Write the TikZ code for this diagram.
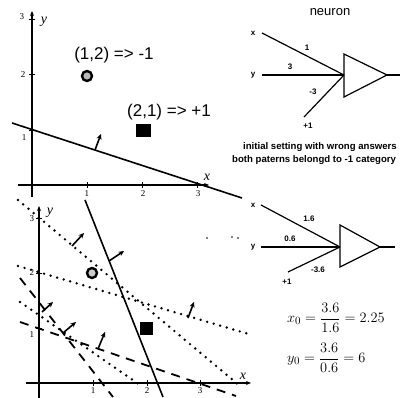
\documentclass[tikz,border=0pt]{standalone}
\usepackage{fontspec}
\setmainfont{Liberation Serif}
\newfontfamily\arial{Liberation Sans}
\usetikzlibrary{arrows.meta}
\begin{document}
\begin{tikzpicture}[x=1pt,y=-1pt,
  axis/.style={line width=1.1pt,-{Stealth[length=5pt,width=4pt]}},
  tick/.style={line width=0.9pt},
  plotline/.style={line width=1.6pt},
  dotline/.style={line width=2.7pt,line cap=round,dash pattern=on 0pt off 6.8pt},
  dashline/.style={line width=1.8pt,dash pattern=on 9pt off 7pt},
  normalarrow/.style={line width=1.6pt,-{Stealth[length=5.5pt,width=5pt]}},
  ticklab/.style={inner sep=0pt,font=\fontsize{9}{9}\selectfont},
  axlab/.style={inner sep=0pt,font=\fontsize{14}{14}\selectfont\itshape},
  bigtxt/.style={inner sep=0pt,font=\arial\fontsize{17}{17}\selectfont},
  wlab/.style={inner sep=0pt,font=\arial\bfseries\fontsize{8}{8}\selectfont},
  note/.style={inner sep=0pt,font=\arial\bfseries\fontsize{9.6}{10}\selectfont},
  wire/.style={line width=1.2pt},
  neuronshape/.style={line width=1.2pt},
  circmark/.style={circle,draw=black,line width=2.4pt,fill=gray!55,minimum size=10pt,inner sep=0pt},
  sqmark/.style={fill=black,inner sep=0pt},
  eq/.style={inner sep=0pt,font=\fontsize{15}{15}\selectfont},
]
\useasboundingbox (0,0) rectangle (400,398);

% ================= TOP PLOT =================
\coordinate (ty0) at (32,197);
\coordinate (ty1) at (32,11);
\coordinate (tx0) at (18,185);
\coordinate (tx1) at (209,185);
\draw[axis] (ty0) -- (ty1);
\draw[axis] (tx0) -- (tx1);
\foreach \yy in {130,74,19} \draw[tick] (29,\yy) -- (35,\yy);
\foreach \xx in {87,142,197} \draw[tick] (\xx,182) -- (\xx,188);
\node[ticklab] (tl3) at (22,17) {3};
\node[ticklab] (tl2) at (23,75) {2};
\node[ticklab] (tl1) at (24,138) {1};
\node[ticklab] (txl1) at (87,194) {1};
\node[ticklab] (txl2) at (143,194) {2};
\node[ticklab] (txl3) at (198,194) {3};
\node[axlab] (tylab) at (44,22) {y};
\node[axlab] (txlab) at (207,177) {x};

\coordinate (tl-a) at (12,123);
\coordinate (tl-b) at (242,198);
\draw[plotline] (tl-a) -- (tl-b);
\coordinate (tn-a) at (95,150);
\coordinate (tn-b) at (101,134);
\draw[normalarrow] (tn-a) -- (tn-b);

\node[circmark] (tp12) at (87,76) {};
\node[sqmark,minimum width=15pt,minimum height=13pt] (tp21) at (143.5,130.5) {};
\node[bigtxt] (lab12) at (114,55) {(1,2) => -1};
\node[bigtxt] (lab21) at (169,112) {(2,1) => +1};

% ================= TOP NEURON =================
\node[inner sep=0pt,font=\arial\fontsize{13}{13}\selectfont] (ntitle) at (330,12) {neuron};
\node[wlab] (nx) at (253,33) {x};
\node[wlab] (ny) at (253,75) {y};
\node[wlab] (nb) at (308,126) {+1};
\coordinate (nxs) at (262,33);
\coordinate (nys) at (262,75);
\coordinate (nbs) at (304,117);
\coordinate (nin) at (344,75);
\coordinate (ntt) at (344,54);
\coordinate (ntb) at (344,97);
\coordinate (nap) at (387,75);
\coordinate (nout) at (400,75);
\draw[wire] (nxs) -- (nin);
\draw[wire] (nys) -- (nin);
\draw[wire] (nbs) -- (nin);
\draw[neuronshape] (ntt) -- (nap) -- (ntb) -- cycle;
\draw[wire] (nap) -- (nout);
\node[wlab] (w1) at (307,48) {1};
\node[wlab] (w2) at (290,67) {3};
\node[wlab] (w3) at (313,92) {-3};

\node[note] (note1) at (320,147) {initial setting with wrong answers};
\node[note,anchor=west] (note2) at (232,160) {both paterns belongd to -1 category};

% ================= BOTTOM NEURON =================
\node[wlab] (mx) at (253,205) {x};
\node[wlab] (my) at (253,247) {y};
\node[wlab] (mb) at (287,282) {+1};
\coordinate (mxs) at (261,205);
\coordinate (mys) at (261,247);
\coordinate (mbs) at (288,272);
\coordinate (min) at (340,247);
\coordinate (mtt) at (340,225);
\coordinate (mtb) at (340,267);
\coordinate (map) at (380,247);
\coordinate (mout) at (395,247);
\draw[wire] (mxs) -- (min);
\draw[wire] (mys) -- (min);
\draw[wire] (mbs) -- (min);
\draw[neuronshape] (mtt) -- (map) -- (mtb) -- cycle;
\draw[wire] (map) -- (mout);
\node[wlab] (v1) at (309,219) {1.6};
\node[wlab] (v2) at (290,239) {0.6};
\node[wlab] (v3) at (318,270) {-3.6};

\node[eq,anchor=west] (eqx) at (287,318) {$\displaystyle x_0=\frac{3.6}{1.6}=2.25$};
\node[eq,anchor=west] (eqy) at (287,358) {$\displaystyle y_0=\frac{3.6}{0.6}=6$};

% ================= BOTTOM PLOT =================
\coordinate (by0) at (39,398);
\coordinate (by1) at (39,206);
\coordinate (bx0) at (26,383);
\coordinate (bx1) at (251,383);
\draw[axis] (by0) -- (by1);
\draw[axis] (bx0) -- (bx1);
\foreach \yy in {328,273,218} \draw[tick] (36,\yy) -- (42,\yy);
\foreach \xx in {93,147,200} \draw[tick] (\xx,380) -- (\xx,386);
\node[ticklab] (bl3) at (32,219) {3};
\node[ticklab] (bl2) at (32,273) {2};
\node[ticklab] (bl1) at (32,335) {1};
\node[ticklab] (bxl1) at (93,391) {1};
\node[ticklab] (bxl2) at (147,391) {2};
\node[ticklab] (bxl3) at (200,391) {3};
\node[axlab] (bylab) at (50,213) {y};
\node[axlab] (bxlab) at (243,376) {x};

% solid final line
\coordinate (s-a) at (85,200);
\coordinate (s-b) at (163,397);
\draw[plotline] (s-a) -- (s-b);
\coordinate (sn-a) at (109,261);
\coordinate (sn-b) at (124,251);
\draw[normalarrow] (sn-a) -- (sn-b);

% dotted lines
\coordinate (da-a) at (18,200);
\coordinate (da-b) at (240,386);
\draw[dotline] (da-a) -- (da-b);
\coordinate (dan-a) at (72,246);
\coordinate (dan-b) at (84,233);
\draw[normalarrow] (dan-a) -- (dan-b);

\coordinate (db-a) at (18,266);
\coordinate (db-b) at (252,335);
\draw[dotline] (db-a) -- (db-b);
\coordinate (dbn-a) at (188,318);
\coordinate (dbn-b) at (194,302);
\draw[normalarrow] (dbn-a) -- (dbn-b);

\coordinate (dc-a) at (20,302);
\coordinate (dc-b) at (140,385);
\draw[dotline] (dc-a) -- (dc-b);

% dashed lines
\coordinate (dd-a) at (20,322);
\coordinate (dd-b) at (236,396);
\draw[dashline] (dd-a) -- (dd-b);
\coordinate (ddn-a) at (98,349);
\coordinate (ddn-b) at (105,332);
\draw[normalarrow] (ddn-a) -- (ddn-b);

\coordinate (de-a) at (20,278);
\coordinate (de-b) at (113,397);
\draw[dashline] (de-a) -- (de-b);
\coordinate (den-a) at (63,333);
\coordinate (den-b) at (76,322);
\draw[normalarrow] (den-a) -- (den-b);

\coordinate (dcn-a) at (42,312);
\coordinate (dcn-b) at (53,302);
\draw[normalarrow] (dcn-a) -- (dcn-b);

% bottom markers
\node[circmark,fill=gray!40] (bp12) at (92,273) {};
\node[sqmark,minimum width=13pt,minimum height=13pt] (bp21) at (146.5,328.5) {};

% stray dots
\fill (207,238) circle (0.8pt);
\fill (232,237) circle (0.8pt);
\fill (238,238) circle (0.8pt);
\end{tikzpicture}
\end{document}
